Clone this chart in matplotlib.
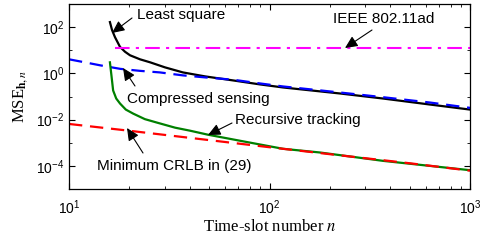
import numpy as np
import matplotlib
matplotlib.use("Agg")
import matplotlib.pyplot as plt
from matplotlib.ticker import LogLocator, NullFormatter

# valeurs
n_ls = [16.0, 16.4, 16.96, 17.97, 19.03, 20.15, 22.6, 25.4, 30.1, 37.0, 47.7,
        65.8, 89.7, 116.8, 224.7, 368, 632, 1000]
mse_ls = [165, 74, 36.7, 13.9, 8.6, 6.06, 4.06, 3.0, 1.82, 1.10, 0.741,
          0.496, 0.333, 0.246, 0.135, 0.0818, 0.0449, 0.0272]

n_cs = [10, 12.0, 14.3, 18.0, 22.6, 28.4, 37.0, 47.7, 65.8, 89.7, 116.8,
        224.7, 368, 632, 1000]
mse_cs = [4.06, 3.0, 2.23, 1.57, 1.285, 1.10, 0.818, 0.670, 0.532, 0.367,
          0.272, 0.149, 0.0933, 0.0548, 0.0323]

n_ieee = [17, 30, 100, 300, 1000]
mse_ieee = [12.3, 12.3, 12.3, 12.3, 12.3]

n_rt = [16.0, 16.3, 16.6, 17.2, 17.97, 19.2, 20.9, 23.9, 27.5, 33.8, 40.1,
        49.3, 71.3, 116.8, 178.6, 368, 1000]
mse_rt = [3.0, 0.741, 0.182, 0.0818, 0.0496, 0.0272, 0.0182, 0.0105, 0.00741,
          0.00449, 0.00333, 0.00223, 0.00122, 5.48e-4, 3.79e-4, 1.65e-4, 6.5e-5]

n_crlb = [10, 20, 50, 100, 200, 500, 1000]
mse_crlb = [6.5e-3, 3.3e-3, 1.3e-3, 6.4e-4, 3.2e-4, 1.3e-4, 6.2e-5]

plt.rcParams['font.family'] = ['Liberation Sans', 'DejaVu Sans']
plt.rcParams['mathtext.fontset'] = 'stix'

fig = plt.figure(figsize=(4.83, 2.41), dpi=100)
ax = fig.add_axes([69/483, 1 - 189/241, 401/483, 185/241])

ax.loglog(n_ls, mse_ls, color='k', lw=1.6)
ax.loglog(n_ieee, mse_ieee, color='#ff00ff', lw=1.5, ls=(0, (7, 3, 1.5, 3)))
ax.loglog(n_cs, mse_cs, color='#0000ff', lw=1.6, ls=(0, (6, 3.5)))
ax.loglog(n_rt, mse_rt, color='#008000', lw=1.6)
ax.loglog(n_crlb, mse_crlb, color='#ff0000', lw=1.6, ls=(0, (6, 3.5)))

ax.set_xlim(10, 1000)
ax.set_ylim(1e-5, 1e3)
ax.set_yticks([1e-4, 1e-2, 1e0, 1e2])
ax.yaxis.set_minor_locator(LogLocator(base=10, subs=[]))
ax.yaxis.set_minor_formatter(NullFormatter())
ax.xaxis.set_minor_locator(LogLocator(base=10, subs=np.arange(2, 10)))
ax.tick_params(which='both', direction='in', top=True, right=True, labelsize=10)
ax.tick_params(which='major', length=4, width=0.8)
ax.tick_params(which='minor', length=2.5, width=0.6)
ax.tick_params(axis='x', pad=7)
for s in ax.spines.values():
    s.set_linewidth(0.9)

ax.set_xlabel(r'Time-slot number $n$', family='Liberation Serif', fontsize=12, labelpad=1)
ax.set_ylabel(r'MSE$_{\mathbf{h},n}$', family='Liberation Serif', fontsize=12, labelpad=4)

def px(x, y):
    return ((x - 69) / 401, (189 - y) / 185)

arr = dict(arrowstyle='-|>,head_length=0.75,head_width=0.35', color='k', lw=0.8,
           mutation_scale=10, shrinkA=0, shrinkB=0)
notes = [
    ("Least square", (137, 15), (132, 18), (112, 33), 'left'),
    ("IEEE 802.11ad", (384, 19), (372, 30), (345, 48), 'center'),
    ("Compressed sensing", (127, 99), (135, 86), (123, 68), 'left'),
    ("Recursive tracking", (235, 120), (232, 123), (208, 135), 'left'),
    ("Minimum CRLB in (29)", (97, 166), (143, 153), (127, 128), 'left'),
]
for txt, tpos, tail, tip, ha in notes:
    ax.annotate('', xy=px(*tip), xytext=px(*tail), xycoords='axes fraction',
                textcoords='axes fraction', arrowprops=arr)
    ax.text(*px(*tpos), txt, transform=ax.transAxes, ha=ha, va='center', fontsize=11)

fig.savefig('out.png', dpi=100)
